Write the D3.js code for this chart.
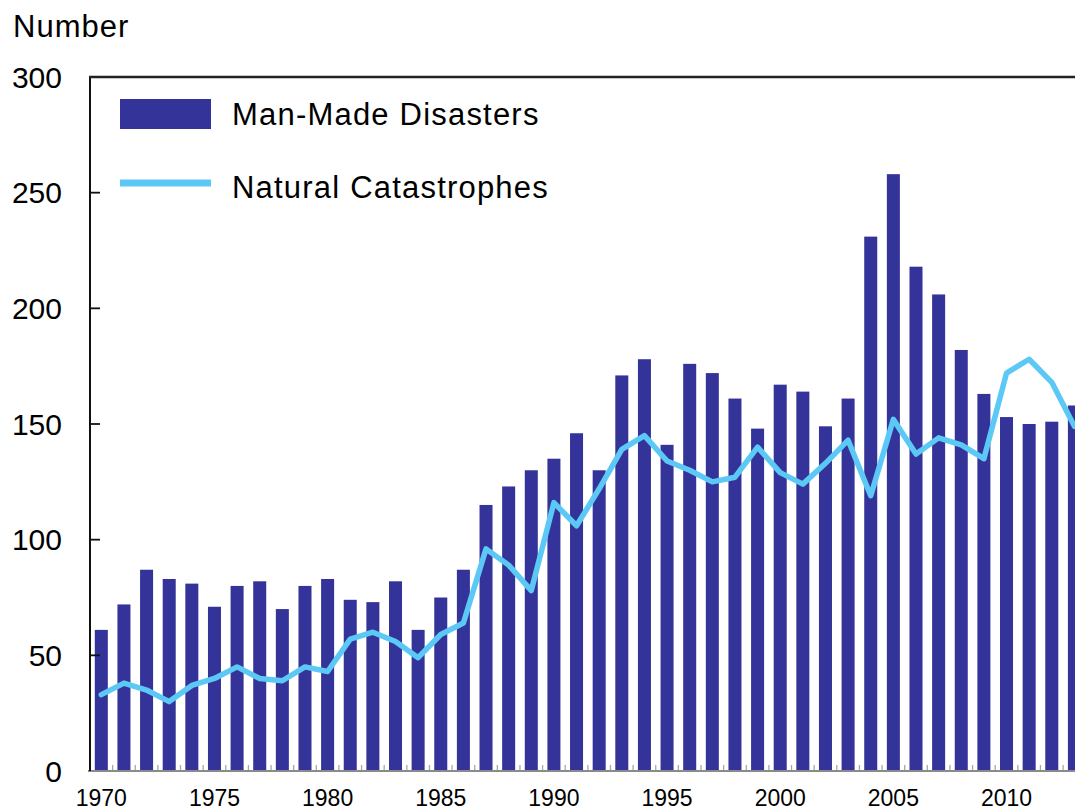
<!DOCTYPE html>
<html>
<head>
<meta charset="utf-8">
<script src="https://cdn.jsdelivr.net/npm/d3@7/dist/d3.min.js"></script>
<style>
  html, body { margin: 0; padding: 0; background: #fff; overflow: hidden; }
  svg { display: block; }
  text { font-family: "Liberation Sans", Arial, sans-serif; fill: #000; }
</style>
</head>
<body>
<svg id="chart" width="1075" height="811"></svg>
<script>
const years = [1970,1971,1972,1973,1974,1975,1976,1977,1978,1979,
               1980,1981,1982,1983,1984,1985,1986,1987,1988,1989,
               1990,1991,1992,1993,1994,1995,1996,1997,1998,1999,
               2000,2001,2002,2003,2004,2005,2006,2007,2008,2009,
               2010,2011,2012,2013];
const manMade = [61,72,87,83,81,71,80,82,70,80,
                 83,74,73,82,61,75,87,115,123,130,
                 135,146,130,171,178,141,176,172,161,148,
                 167,164,149,161,231,258,218,206,182,163,
                 153,150,151,158];
const natural = [33,38,35,30,37,40,45,40,39,45,
                 43,57,60,56,49,59,64,96,89,78,
                 116,106,122,139,145,134,130,125,127,140,
                 129,124,133,143,119,152,137,144,141,135,
                 172,178,168,149];
const yTicks = [0,50,100,150,200,250,300];
const xTickLabels = [1970,1975,1980,1985,1990,1995,2000,2005,2010];
const seriesNames = ["Man-Made Disasters", "Natural Catastrophes"];

const barColor = "#333399";
const lineColor = "#5BC8F5";

(function () {
const svg = d3.select("#chart");
const mLeft = 90, mTop = 77, mBottom = 771;
const step = 22.63;
const mRight = mLeft + years.length * step;

const x = d3.scaleBand()
  .domain(years)
  .range([mLeft, mRight])
  .paddingInner(0.425)
  .paddingOuter(0.2125);
const y = d3.scaleLinear().domain([0, 300]).range([mBottom, mTop]);

// bars
svg.append("g").selectAll("rect")
  .data(years.map((yr, i) => ({yr, v: manMade[i]})))
  .join("rect")
  .attr("x", d => x(d.yr))
  .attr("width", x.bandwidth())
  .attr("y", d => y(d.v))
  .attr("height", d => y(0) - y(d.v))
  .attr("fill", barColor);

// line
const line = d3.line()
  .x((d, i) => x(years[i]) + x.bandwidth() / 2)
  .y(d => y(d));
svg.append("path")
  .datum(natural)
  .attr("d", line)
  .attr("fill", "none")
  .attr("stroke", lineColor)
  .attr("stroke-width", 5.5)
  .attr("stroke-linejoin", "round")
  .attr("stroke-linecap", "round");

// x axis (grey) with minor ticks at band boundaries
const xAxisG = svg.append("g");
xAxisG.selectAll("line.minor")
  .data(years.slice(1))
  .join("line")
  .attr("x1", d => x(d) - x.step() * x.paddingInner() / 2)
  .attr("x2", d => x(d) - x.step() * x.paddingInner() / 2)
  .attr("y1", mBottom)
  .attr("y2", mBottom - 6)
  .attr("stroke", "#a8a8a0")
  .attr("stroke-width", 1.3);
xAxisG.append("line")
  .attr("x1", mLeft - 2).attr("x2", mRight)
  .attr("y1", mBottom).attr("y2", mBottom)
  .attr("stroke", "#8a8a8a").attr("stroke-width", 2);

xAxisG.selectAll("text")
  .data(xTickLabels)
  .join("text")
  .attr("x", d => x(d) + x.bandwidth() / 2)
  .attr("y", 806)
  .attr("text-anchor", "middle")
  .style("font-size", "23px")
  .text(d => d);

// y axis
const yAxisG = svg.append("g");
yAxisG.append("line")
  .attr("x1", mLeft).attr("x2", mLeft)
  .attr("y1", mTop).attr("y2", mBottom)
  .attr("stroke", "#111").attr("stroke-width", 2);
yAxisG.selectAll("line.tick")
  .data(yTicks.filter(t => t > 0 && t < 300))
  .join("line")
  .attr("x1", mLeft).attr("x2", mLeft + 10)
  .attr("y1", d => y(d)).attr("y2", d => y(d))
  .attr("stroke", "#111").attr("stroke-width", 1.8);
yAxisG.selectAll("text")
  .data(yTicks)
  .join("text")
  .attr("x", 62)
  .attr("y", d => y(d) + 10.5)
  .attr("text-anchor", "end")
  .style("font-size", "30px")
  .text(d => d);

// top border
svg.append("line")
  .attr("x1", mLeft - 1).attr("x2", mRight)
  .attr("y1", mTop).attr("y2", mTop)
  .attr("stroke", "#222").attr("stroke-width", 2.5);

// axis title
svg.append("text")
  .attr("x", 13).attr("y", 37)
  .style("font-size", "31px")
  .style("letter-spacing", "1px")
  .text("Number");

// legend
const lg = svg.append("g");
lg.append("rect")
  .attr("x", 120).attr("y", 99)
  .attr("width", 91).attr("height", 30)
  .attr("fill", barColor);
lg.append("text")
  .attr("x", 232).attr("y", 125)
  .style("font-size", "31px")
  .style("letter-spacing", "1.2px")
  .text(seriesNames[0]);
lg.append("line")
  .attr("x1", 120).attr("x2", 211)
  .attr("y1", 183).attr("y2", 183)
  .attr("stroke", lineColor).attr("stroke-width", 7);
lg.append("text")
  .attr("x", 232).attr("y", 198)
  .style("font-size", "31px")
  .style("letter-spacing", "1.2px")
  .text(seriesNames[1]);
})();
</script>
</body>
</html>
